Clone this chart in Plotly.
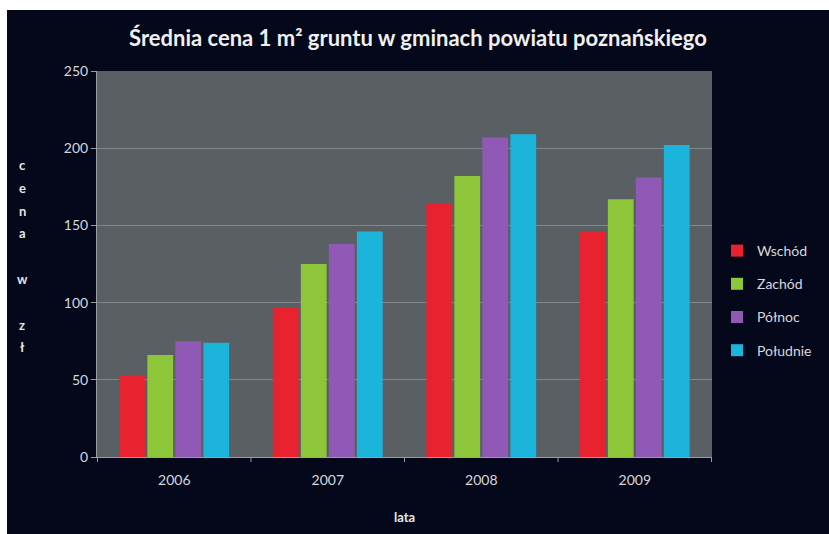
import plotly.graph_objects as go

# Average price of 1 m2 of land, by part of the county
years = ["2006", "2007", "2008", "2009"]
wschod = [53, 97, 164, 146]
zachod = [66, 125, 182, 167]
polnoc = [75, 138, 207, 181]
poludnie = [74, 146, 209, 202]

series = [
    ("Wschód", wschod, "#e8232f"),
    ("Zachód", zachod, "#8ec63a"),
    ("Północ", polnoc, "#9159b6"),
    ("Południe", poludnie, "#1db4dc"),
]

# vertical axis caption, one letter per row ("" = empty row)
y_caption = ["c", "e", "n", "a", "", "w", "", "z", "ł"]

FONT = "Lato"
TEXT = "#d8d8dc"
DARK = "#05071a"
W, H = 829, 534

fig = go.Figure()
for name, vals, col in series:
    fig.add_trace(go.Bar(
        x=years, y=vals, name=name, legendgroup=name,
        marker=dict(color=col, line=dict(width=0)),
    ))

# plot area spans pixels 97..712 horizontally, 71..457 vertically
L, R, T, B = 97, 117, 71, 77
PW, PH = W - L - R, H - T - B

def cx(x):
    return x / W

def cy(y):
    return 1 - y / H

annotations = []
for i, ch in enumerate(y_caption):
    if ch:
        annotations.append(dict(
            text=f"<b>{ch}</b>", xref="paper", yref="paper",
            x=(22 - L) / PW, y=(H - B - 165 - 22.8 * i) / PH,
            xanchor="center", yanchor="middle",
            showarrow=False, font=dict(family=FONT, size=13, color="#e6e6e6"),
        ))
annotations.append(dict(
    text="<b>lata</b>", xref="paper", yref="paper",
    x=(404 - L) / PW, y=(H - B - 517) / PH,
    xanchor="center", yanchor="middle",
    showarrow=False, font=dict(family=FONT, size=13, color="#e6e6e6"),
))

fig.update_layout(
    width=W, height=H,
    margin=dict(l=L, r=R, t=T, b=B, autoexpand=False),
    paper_bgcolor=DARK,
    plot_bgcolor="#5a5f64",
    barmode="group",
    bargap=0.27,
    bargroupgap=0.08,
    font=dict(family=FONT, color=TEXT, size=14),
    showlegend=True,
    legend=dict(
        xref="container", yref="container",
        x=cx(717), y=cy(235), xanchor="left", yanchor="top",
        font=dict(family=FONT, size=14, color=TEXT),
        bgcolor="rgba(0,0,0,0)", tracegroupgap=12, itemwidth=30,
    ),
    title=dict(
        text="<b>Średnia cena 1 m² gruntu w gminach powiatu poznańskiego</b>",
        xref="container", yref="container",
        x=cx(418), xanchor="center", y=cy(38), yanchor="middle",
        font=dict(family=FONT, size=22, color="#f0f0f0"),
    ),
    xaxis=dict(
        showgrid=False, showline=True, linecolor="#9a9ea2", linewidth=1,
        ticks="", tickfont=dict(family=FONT, size=14, color=TEXT),
        ticklabelstandoff=10,
    ),
    yaxis=dict(
        range=[0, 250], dtick=50, showgrid=True, gridcolor="#80868a",
        gridwidth=1, showline=True, linecolor="#9a9ea2", linewidth=1,
        ticks="outside", ticklen=5, tickcolor="#9a9ea2",
        tickfont=dict(family=FONT, size=14, color=TEXT), zeroline=False,
    ),
    annotations=annotations,
)

# thin white page edge along the top and left sides
fig.add_shape(type="rect", xref="paper", yref="paper", layer="above",
              x0=-L / PW, x1=(W - L) / PW, y0=(H - B - 10) / PH, y1=(H - B) / PH,
              fillcolor="white", line=dict(width=0))
fig.add_shape(type="rect", xref="paper", yref="paper", layer="above",
              x0=-L / PW, x1=(7 - L) / PW, y0=-B / PH, y1=(H - B) / PH,
              fillcolor="white", line=dict(width=0))

# tick marks between the year groups on the category axis
for i in range(5):
    fig.add_shape(type="line", xref="x", yref="paper",
                  x0=i - 0.5, x1=i - 0.5, y0=0, y1=-5 / PH,
                  line=dict(color="#9a9ea2", width=1))

page_style = (
    "document.body.style.margin='0';"
    f"document.body.style.background='{DARK}';"
    "document.body.style.overflow='hidden';"
)
fig.write_html("out.html", config={"displayModeBar": False}, post_script=page_style)
